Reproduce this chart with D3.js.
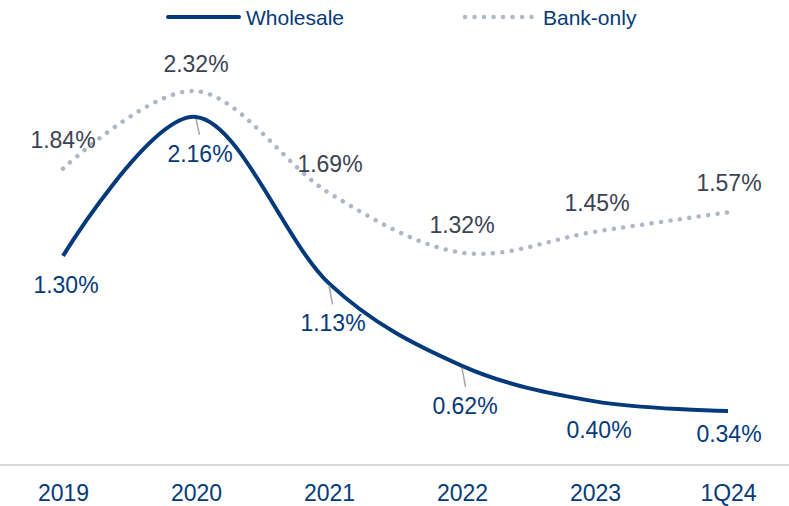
<!DOCTYPE html>
<html>
<head>
<meta charset="utf-8">
<script src="https://cdn.jsdelivr.net/npm/d3@7/dist/d3.min.js"></script>
<style>
  html, body { margin: 0; padding: 0; background: #fff; }
  svg { display: block; font-family: "Liberation Sans", Arial, sans-serif; }
</style>
</head>
<body>
<svg id="chart" width="789" height="506"></svg>
<script>
const categories = ["2019", "2020", "2021", "2022", "2023", "1Q24"];
const wholesale = [1.30, 2.16, 1.13, 0.62, 0.40, 0.34];
const bankOnly = [1.84, 2.32, 1.69, 1.32, 1.45, 1.57];
const seriesNames = ["Wholesale", "Bank-only"];

// label layout (pixel offsets from point), not data
const wholesaleLabelDy = [37, 45, 48, 48, 37, 31];
const wholesaleLabelDx = [3, 4, 4, 3, 4, 1];
const wholesaleLeader = [false, true, true, true, false, false];
const bankLabelDy = [-21, -19, -21, -20, -21, -21];
const bankLabelDx = [0, 0, 1, 0, 2, 1];

const navy = "#053A7A";
const dotGrey = "#AEB6C7";
const labelGrey = "#3B4252";

const svg = d3.select("#chart");
const x = d3.scalePoint().domain(categories).range([63, 728]).padding(0);
const y = d3.scaleLinear().domain([0, 2.5]).range([466, 62]);

// axis baseline
svg.append("line")
  .attr("x1", 0).attr("x2", 789)
  .attr("y1", 465).attr("y2", 465)
  .attr("stroke", "#D9D9D9").attr("stroke-width", 2);

const xAxis = d3.axisBottom(x).tickSize(0).tickPadding(0);
const gx = svg.append("g").attr("transform", "translate(0,466)").call(xAxis);
gx.select(".domain").remove();
gx.selectAll("text")
  .attr("y", 35).attr("dy", 0)
  .attr("fill", navy)
  .style("font-size", "23px")
  .style("font-family", "'Liberation Sans', Arial, sans-serif");

const line = d3.line().curve(d3.curveCatmullRom.alpha(0));

const wPts = wholesale.map((v, i) => [x(categories[i]), y(v)]);
const bPts = bankOnly.map((v, i) => [x(categories[i]), y(v)]);

svg.append("path")
  .attr("d", line(bPts))
  .attr("fill", "none")
  .attr("stroke", dotGrey)
  .attr("stroke-width", 4.5)
  .attr("stroke-linecap", "round")
  .attr("stroke-dasharray", "0.01 9.5");

svg.append("path")
  .attr("d", line(wPts))
  .attr("fill", "none")
  .attr("stroke", navy)
  .attr("stroke-width", 4)
  .attr("stroke-linecap", "butt");

// leader lines
wholesale.forEach((v, i) => {
  if (!wholesaleLeader[i]) return;
  const px = x(categories[i]), py = y(v);
  svg.append("line")
    .attr("x1", px).attr("y1", py + 2)
    .attr("x2", px + 3.5).attr("y2", py + wholesaleLabelDy[i] - 27)
    .attr("stroke", "#A6A6A6").attr("stroke-width", 1.5);
});

// labels
svg.append("g").selectAll("text")
  .data(wholesale)
  .join("text")
  .attr("x", (d, i) => x(categories[i]) + wholesaleLabelDx[i])
  .attr("y", (d, i) => y(d) + wholesaleLabelDy[i])
  .attr("text-anchor", "middle")
  .attr("fill", navy)
  .style("font-size", "23px")
  .text(d => d.toFixed(2) + "%");

svg.append("g").selectAll("text")
  .data(bankOnly)
  .join("text")
  .attr("x", (d, i) => x(categories[i]) + bankLabelDx[i])
  .attr("y", (d, i) => y(d) + bankLabelDy[i])
  .attr("text-anchor", "middle")
  .attr("fill", labelGrey)
  .style("font-size", "23px")
  .text(d => d.toFixed(2) + "%");

// legend
const lg = svg.append("g");
lg.append("line")
  .attr("x1", 168).attr("x2", 239).attr("y1", 17).attr("y2", 17)
  .attr("stroke", navy).attr("stroke-width", 4).attr("stroke-linecap", "round");
lg.append("text")
  .attr("x", 246).attr("y", 25)
  .attr("fill", navy).style("font-size", "21px")
  .text(seriesNames[0]);
lg.append("line")
  .attr("x1", 465).attr("x2", 537).attr("y1", 17).attr("y2", 17)
  .attr("stroke", dotGrey).attr("stroke-width", 4.5)
  .attr("stroke-linecap", "round").attr("stroke-dasharray", "0.01 9.5");
lg.append("text")
  .attr("x", 543).attr("y", 25)
  .attr("fill", navy).style("font-size", "21px")
  .text(seriesNames[1]);
</script>
</body>
</html>
